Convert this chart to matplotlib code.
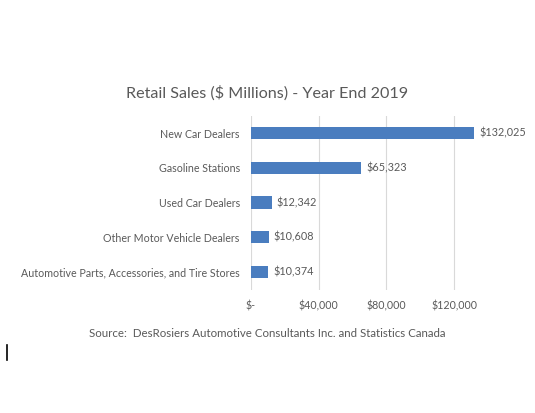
import matplotlib
matplotlib.use("Agg")
import matplotlib.pyplot as plt
from matplotlib.lines import Line2D

categories = ["New Car Dealers", "Gasoline Stations", "Used Car Dealers",
              "Other Motor Vehicle Dealers",
              "Automotive Parts, Accessories, and Tire Stores"]
values = [132025, 65323, 12342, 10608, 10374]
value_labels = ["$132,025", "$65,323", "$12,342", "$10,608", "$10,374"]
xticks = [0, 40000, 80000, 120000]
xtick_labels = ["$-", "$40,000", "$80,000", "$120,000"]

plt.rcParams['font.family'] = ['Lato', 'DejaVu Sans']
gray = '#595959'

fig = plt.figure(figsize=(5.35, 4.13), dpi=100)
ax = fig.add_axes([0.469, 0.299, 0.443, 0.421])

ypos = list(range(len(categories)))[::-1]
ax.barh(ypos, values, height=0.35, color='#4a7dbf', zorder=3)
for y, v, lab in zip(ypos, values, value_labels):
    ax.text(v + 3000, y, lab, va='center', ha='left', fontsize=7.8, color=gray)

ax.set_yticks(ypos)
ax.set_yticklabels(categories, fontsize=7.7, color=gray)
ax.set_xticks(xticks)
ax.set_xticklabels(xtick_labels, fontsize=7.7, color=gray)
ax.set_xlim(0, 140000)
ax.set_ylim(-0.5, 4.5)
ax.tick_params(length=0, pad=8)
ax.tick_params(axis='x', pad=8)
ax.grid(axis='x', color='#d9d9d9', linewidth=0.8, zorder=0)
for s in ax.spines.values():
    s.set_visible(False)

fig.text(0.5, 0.775, "Retail Sales ($ Millions) - Year End 2019", ha='center',
         va='center', fontsize=11.6, color=gray)
fig.text(0.5, 0.193, "Source:  DesRosiers Automotive Consultants Inc. and Statistics Canada",
         ha='center', va='center', fontsize=8.3, color=gray)
fig.add_artist(Line2D([0.013, 0.013], [0.128, 0.165], color='black', linewidth=1.2))

fig.savefig("out.png", dpi=100, facecolor='white')
